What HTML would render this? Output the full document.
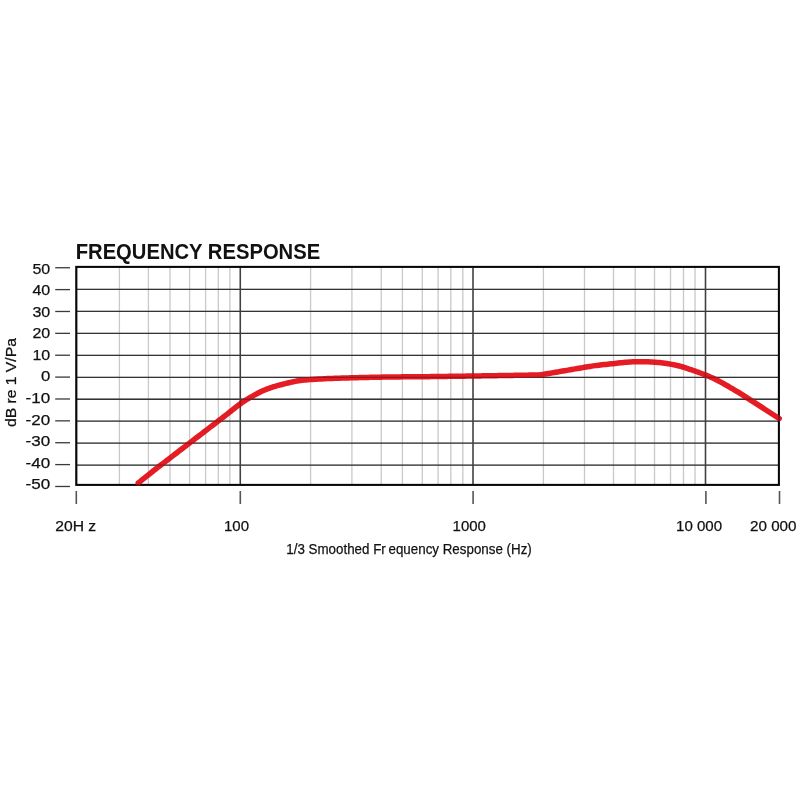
<!DOCTYPE html>
<html><head><meta charset="utf-8"><style>
html,body{margin:0;padding:0;background:#fff;width:800px;height:800px;overflow:hidden}
svg{display:block}
text{font-family:"Liberation Sans",sans-serif;fill:#111;stroke:#111;stroke-width:0.25px}
.g{mix-blend-mode:multiply;opacity:0.45}
.mn{stroke:#d8d8d8;stroke-width:1.3}
.hz{stroke:#4a4a4a;stroke-width:1.3}
.mj{stroke:#5a5a5a;stroke-width:1.5}
.fr{fill:none;stroke:#0d0d0d;stroke-width:2}
.tk{stroke:#3a3a3a;stroke-width:1.3}
.xt{stroke:#555;stroke-width:1.6}
.cv{fill:none;stroke:#e51c24;stroke-width:5.5;stroke-linecap:round;stroke-linejoin:round}
.yl{font-size:15.2px;text-anchor:end}
.ttl{font-size:22.5px;font-weight:bold;fill:#111;stroke:none}
.xl{font-size:15px}
.sub{font-size:15px}
.ax{font-size:15px}
</style></head><body>
<svg width="800" height="800" viewBox="0 0 800 800">
<g>
<line x1="119.40" y1="266.9" x2="119.40" y2="484.9" class="mn"/>
<line x1="148.40" y1="266.9" x2="148.40" y2="484.9" class="mn"/>
<line x1="170.00" y1="266.9" x2="170.00" y2="484.9" class="mn"/>
<line x1="189.60" y1="266.9" x2="189.60" y2="484.9" class="mn"/>
<line x1="205.60" y1="266.9" x2="205.60" y2="484.9" class="mn"/>
<line x1="218.35" y1="266.9" x2="218.35" y2="484.9" class="mn"/>
<line x1="229.90" y1="266.9" x2="229.90" y2="484.9" class="mn"/>
<line x1="310.60" y1="266.9" x2="310.60" y2="484.9" class="mn"/>
<line x1="351.90" y1="266.9" x2="351.90" y2="484.9" class="mn"/>
<line x1="381.25" y1="266.9" x2="381.25" y2="484.9" class="mn"/>
<line x1="402.40" y1="266.9" x2="402.40" y2="484.9" class="mn"/>
<line x1="422.30" y1="266.9" x2="422.30" y2="484.9" class="mn"/>
<line x1="438.10" y1="266.9" x2="438.10" y2="484.9" class="mn"/>
<line x1="450.80" y1="266.9" x2="450.80" y2="484.9" class="mn"/>
<line x1="462.80" y1="266.9" x2="462.80" y2="484.9" class="mn"/>
<line x1="543.40" y1="266.9" x2="543.40" y2="484.9" class="mn"/>
<line x1="584.50" y1="266.9" x2="584.50" y2="484.9" class="mn"/>
<line x1="613.50" y1="266.9" x2="613.50" y2="484.9" class="mn"/>
<line x1="635.20" y1="266.9" x2="635.20" y2="484.9" class="mn"/>
<line x1="654.50" y1="266.9" x2="654.50" y2="484.9" class="mn"/>
<line x1="670.50" y1="266.9" x2="670.50" y2="484.9" class="mn"/>
<line x1="683.50" y1="266.9" x2="683.50" y2="484.9" class="mn"/>
<line x1="695.05" y1="266.9" x2="695.05" y2="484.9" class="mn"/>
<line x1="76.3" y1="465.14" x2="778.9" y2="465.14" class="hz"/>
<line x1="76.3" y1="443.18" x2="778.9" y2="443.18" class="hz"/>
<line x1="76.3" y1="421.22" x2="778.9" y2="421.22" class="hz"/>
<line x1="76.3" y1="399.26" x2="778.9" y2="399.26" class="hz"/>
<line x1="76.3" y1="377.30" x2="778.9" y2="377.30" class="hz"/>
<line x1="76.3" y1="355.34" x2="778.9" y2="355.34" class="hz"/>
<line x1="76.3" y1="333.38" x2="778.9" y2="333.38" class="hz"/>
<line x1="76.3" y1="311.42" x2="778.9" y2="311.42" class="hz"/>
<line x1="76.3" y1="289.46" x2="778.9" y2="289.46" class="hz"/>
<line x1="240.30" y1="266.9" x2="240.30" y2="484.9" class="mj"/>
<line x1="473.00" y1="266.9" x2="473.00" y2="484.9" class="mj"/>
<line x1="705.50" y1="266.9" x2="705.50" y2="484.9" class="mj"/>
<rect x="76.3" y="266.9" width="702.60" height="218.00" class="fr"/>
</g>
<path d="M138.25,483.00 L139.75,481.79 L141.75,480.17 L143.25,478.96 L145.25,477.35 L146.75,476.14 L148.75,474.54 L150.25,473.35 L152.25,471.76 L154.25,470.18 L155.75,469.01 L157.75,467.45 L159.25,466.29 L161.25,464.75 L162.75,463.59 L164.75,462.06 L166.75,460.53 L168.25,459.38 L170.25,457.84 L171.75,456.69 L173.75,455.16 L175.25,454.01 L177.25,452.48 L179.25,450.94 L180.75,449.79 L182.75,448.26 L184.25,447.11 L186.25,445.58 L187.75,444.42 L189.75,442.89 L191.75,441.36 L193.25,440.21 L195.25,438.68 L196.75,437.53 L198.75,435.99 L200.25,434.84 L202.25,433.31 L204.25,431.77 L205.75,430.63 L207.75,429.09 L209.25,427.94 L211.25,426.41 L212.75,425.26 L214.75,423.72 L216.75,422.19 L218.25,421.04 L220.25,419.50 L221.75,418.34 L223.75,416.78 L225.25,415.61 L227.25,414.04 L229.25,412.46 L230.75,411.28 L232.75,409.71 L234.25,408.53 L236.25,406.96 L237.75,405.79 L239.75,404.27 L241.75,402.80 L243.25,401.76 L245.25,400.44 L246.75,399.50 L248.75,398.30 L250.25,397.42 L252.25,396.28 L254.25,395.17 L255.75,394.35 L257.75,393.29 L259.25,392.53 L261.25,391.54 L262.75,390.84 L264.75,389.95 L266.75,389.13 L268.25,388.56 L270.25,387.84 L271.75,387.34 L273.75,386.71 L275.25,386.26 L277.25,385.69 L279.25,385.14 L280.75,384.74 L282.75,384.23 L284.25,383.85 L286.25,383.36 L287.75,382.99 L289.75,382.52 L291.75,382.07 L293.25,381.75 L295.25,381.35 L296.75,381.07 L298.75,380.74 L300.25,380.52 L302.25,380.26 L304.25,380.04 L305.75,379.90 L307.75,379.73 L309.25,379.63 L311.25,379.49 L312.75,379.40 L314.75,379.28 L316.75,379.16 L318.25,379.08 L320.25,378.97 L321.75,378.89 L323.75,378.78 L325.25,378.71 L327.25,378.62 L329.25,378.54 L330.75,378.48 L332.75,378.40 L334.25,378.35 L336.25,378.28 L337.75,378.23 L339.75,378.16 L341.75,378.10 L343.25,378.05 L345.25,377.99 L346.75,377.94 L348.75,377.89 L350.25,377.85 L352.25,377.80 L354.25,377.74 L355.75,377.71 L357.75,377.66 L359.25,377.62 L361.25,377.57 L362.75,377.54 L364.75,377.49 L366.75,377.44 L368.25,377.41 L370.25,377.36 L371.75,377.33 L373.75,377.29 L375.25,377.26 L377.25,377.22 L379.25,377.18 L380.75,377.15 L382.75,377.11 L384.25,377.09 L386.25,377.06 L387.75,377.03 L389.75,377.01 L391.75,376.98 L393.25,376.96 L395.25,376.94 L396.75,376.92 L398.75,376.90 L400.25,376.88 L402.25,376.86 L404.25,376.85 L405.75,376.83 L407.75,376.82 L409.25,376.80 L411.25,376.79 L412.75,376.77 L414.75,376.76 L416.75,376.74 L418.25,376.73 L420.25,376.71 L421.75,376.70 L423.75,376.68 L425.25,376.67 L427.25,376.65 L429.25,376.63 L430.75,376.61 L432.75,376.59 L434.25,376.57 L436.25,376.55 L437.75,376.53 L439.75,376.50 L441.75,376.47 L443.25,376.45 L445.25,376.42 L446.75,376.40 L448.75,376.37 L450.25,376.35 L452.25,376.32 L454.25,376.29 L455.75,376.27 L457.75,376.24 L459.25,376.21 L461.25,376.18 L462.75,376.16 L464.75,376.13 L466.75,376.10 L468.25,376.08 L470.25,376.05 L471.75,376.02 L473.75,375.99 L475.25,375.97 L477.25,375.94 L479.25,375.91 L480.75,375.89 L482.75,375.86 L484.25,375.83 L486.25,375.80 L487.75,375.78 L489.75,375.75 L491.75,375.72 L493.25,375.69 L495.25,375.66 L496.75,375.64 L498.75,375.61 L500.25,375.58 L502.25,375.55 L504.25,375.52 L505.75,375.50 L507.75,375.46 L509.25,375.44 L511.25,375.41 L512.75,375.38 L514.75,375.35 L516.75,375.32 L518.25,375.29 L520.25,375.26 L521.75,375.23 L523.75,375.20 L525.25,375.18 L527.25,375.15 L529.25,375.12 L530.75,375.09 L532.75,375.06 L534.25,375.03 L536.25,374.97 L537.75,374.90 L539.75,374.76 L541.75,374.56 L543.25,374.36 L545.25,374.06 L546.75,373.82 L548.75,373.48 L550.25,373.22 L552.25,372.88 L554.25,372.53 L555.75,372.27 L557.75,371.92 L559.25,371.66 L561.25,371.32 L562.75,371.06 L564.75,370.71 L566.75,370.36 L568.25,370.10 L570.25,369.76 L571.75,369.50 L573.75,369.15 L575.25,368.89 L577.25,368.54 L579.25,368.20 L580.75,367.94 L582.75,367.59 L584.25,367.33 L586.25,367.00 L587.75,366.75 L589.75,366.43 L591.75,366.12 L593.25,365.90 L595.25,365.61 L596.75,365.42 L598.75,365.17 L600.25,364.99 L602.25,364.76 L604.25,364.55 L605.75,364.40 L607.75,364.19 L609.25,364.04 L611.25,363.83 L612.75,363.67 L614.75,363.46 L616.75,363.24 L618.25,363.07 L620.25,362.85 L621.75,362.69 L623.75,362.49 L625.25,362.35 L627.25,362.18 L629.25,362.03 L630.75,361.94 L632.75,361.83 L634.25,361.76 L636.25,361.69 L637.75,361.66 L639.75,361.65 L641.75,361.66 L643.25,361.68 L645.25,361.73 L646.75,361.77 L648.75,361.85 L650.25,361.93 L652.25,362.04 L654.25,362.17 L655.75,362.28 L657.75,362.45 L659.25,362.60 L661.25,362.81 L662.75,362.99 L664.75,363.25 L666.75,363.53 L668.25,363.76 L670.25,364.09 L671.75,364.36 L673.75,364.75 L675.25,365.06 L677.25,365.52 L679.25,366.02 L680.75,366.43 L682.75,367.01 L684.25,367.47 L686.25,368.11 L687.75,368.61 L689.75,369.28 L691.75,369.97 L693.25,370.49 L695.25,371.20 L696.75,371.74 L698.75,372.46 L700.25,373.01 L702.25,373.76 L704.25,374.52 L705.75,375.10 L707.75,375.91 L709.25,376.53 L711.25,377.40 L712.75,378.08 L714.75,379.03 L716.75,380.02 L718.25,380.79 L720.25,381.85 L721.75,382.66 L723.75,383.77 L725.25,384.62 L727.25,385.76 L729.25,386.91 L730.75,387.78 L732.75,388.96 L734.25,389.85 L736.25,391.04 L737.75,391.95 L739.75,393.19 L741.75,394.44 L743.25,395.39 L745.25,396.66 L746.75,397.62 L748.75,398.90 L750.25,399.86 L752.25,401.14 L754.25,402.42 L755.75,403.38 L757.75,404.67 L759.25,405.63 L761.25,406.93 L762.75,407.90 L764.75,409.21 L766.75,410.50 L768.25,411.47 L770.25,412.76 L771.75,413.72 L773.75,415.00 L775.25,415.96 L777.25,417.23 L779.25,418.50" class="cv"/>
<g class="g">
<line x1="119.40" y1="266.9" x2="119.40" y2="484.9" class="mn"/>
<line x1="148.40" y1="266.9" x2="148.40" y2="484.9" class="mn"/>
<line x1="170.00" y1="266.9" x2="170.00" y2="484.9" class="mn"/>
<line x1="189.60" y1="266.9" x2="189.60" y2="484.9" class="mn"/>
<line x1="205.60" y1="266.9" x2="205.60" y2="484.9" class="mn"/>
<line x1="218.35" y1="266.9" x2="218.35" y2="484.9" class="mn"/>
<line x1="229.90" y1="266.9" x2="229.90" y2="484.9" class="mn"/>
<line x1="310.60" y1="266.9" x2="310.60" y2="484.9" class="mn"/>
<line x1="351.90" y1="266.9" x2="351.90" y2="484.9" class="mn"/>
<line x1="381.25" y1="266.9" x2="381.25" y2="484.9" class="mn"/>
<line x1="402.40" y1="266.9" x2="402.40" y2="484.9" class="mn"/>
<line x1="422.30" y1="266.9" x2="422.30" y2="484.9" class="mn"/>
<line x1="438.10" y1="266.9" x2="438.10" y2="484.9" class="mn"/>
<line x1="450.80" y1="266.9" x2="450.80" y2="484.9" class="mn"/>
<line x1="462.80" y1="266.9" x2="462.80" y2="484.9" class="mn"/>
<line x1="543.40" y1="266.9" x2="543.40" y2="484.9" class="mn"/>
<line x1="584.50" y1="266.9" x2="584.50" y2="484.9" class="mn"/>
<line x1="613.50" y1="266.9" x2="613.50" y2="484.9" class="mn"/>
<line x1="635.20" y1="266.9" x2="635.20" y2="484.9" class="mn"/>
<line x1="654.50" y1="266.9" x2="654.50" y2="484.9" class="mn"/>
<line x1="670.50" y1="266.9" x2="670.50" y2="484.9" class="mn"/>
<line x1="683.50" y1="266.9" x2="683.50" y2="484.9" class="mn"/>
<line x1="695.05" y1="266.9" x2="695.05" y2="484.9" class="mn"/>
<line x1="76.3" y1="465.14" x2="778.9" y2="465.14" class="hz"/>
<line x1="76.3" y1="443.18" x2="778.9" y2="443.18" class="hz"/>
<line x1="76.3" y1="421.22" x2="778.9" y2="421.22" class="hz"/>
<line x1="76.3" y1="399.26" x2="778.9" y2="399.26" class="hz"/>
<line x1="76.3" y1="377.30" x2="778.9" y2="377.30" class="hz"/>
<line x1="76.3" y1="355.34" x2="778.9" y2="355.34" class="hz"/>
<line x1="76.3" y1="333.38" x2="778.9" y2="333.38" class="hz"/>
<line x1="76.3" y1="311.42" x2="778.9" y2="311.42" class="hz"/>
<line x1="76.3" y1="289.46" x2="778.9" y2="289.46" class="hz"/>
<line x1="240.30" y1="266.9" x2="240.30" y2="484.9" class="mj"/>
<line x1="473.00" y1="266.9" x2="473.00" y2="484.9" class="mj"/>
<line x1="705.50" y1="266.9" x2="705.50" y2="484.9" class="mj"/>
<rect x="76.3" y="266.9" width="702.60" height="218.00" class="fr"/>
</g>
<line x1="55.2" y1="486.48" x2="70" y2="486.48" class="tk"/>
<line x1="55.2" y1="464.60" x2="70" y2="464.60" class="tk"/>
<line x1="55.2" y1="442.73" x2="70" y2="442.73" class="tk"/>
<line x1="55.2" y1="420.85" x2="70" y2="420.85" class="tk"/>
<line x1="55.2" y1="398.98" x2="70" y2="398.98" class="tk"/>
<line x1="55.2" y1="377.10" x2="70" y2="377.10" class="tk"/>
<line x1="55.2" y1="355.23" x2="70" y2="355.23" class="tk"/>
<line x1="55.2" y1="333.35" x2="70" y2="333.35" class="tk"/>
<line x1="55.2" y1="311.48" x2="70" y2="311.48" class="tk"/>
<line x1="55.2" y1="289.60" x2="70" y2="289.60" class="tk"/>
<line x1="55.2" y1="267.73" x2="70" y2="267.73" class="tk"/>
<line x1="76.30" y1="491" x2="76.30" y2="504" class="xt"/>
<line x1="240.30" y1="491" x2="240.30" y2="504" class="xt"/>
<line x1="473.10" y1="491" x2="473.10" y2="504" class="xt"/>
<line x1="705.90" y1="491" x2="705.90" y2="504" class="xt"/>
<line x1="779.50" y1="491" x2="779.50" y2="504" class="xt"/>
<text x="50.2" y="489.25" class="yl" textLength="24.6" lengthAdjust="spacingAndGlyphs">-50</text>
<text x="50.2" y="467.68" class="yl" textLength="24.6" lengthAdjust="spacingAndGlyphs">-40</text>
<text x="50.2" y="446.11" class="yl" textLength="24.6" lengthAdjust="spacingAndGlyphs">-30</text>
<text x="50.2" y="424.54" class="yl" textLength="24.6" lengthAdjust="spacingAndGlyphs">-20</text>
<text x="50.2" y="402.97" class="yl" textLength="24.6" lengthAdjust="spacingAndGlyphs">-10</text>
<text x="50.2" y="381.40" class="yl" textLength="9.3" lengthAdjust="spacingAndGlyphs">0</text>
<text x="50.2" y="359.83" class="yl" textLength="17.8" lengthAdjust="spacingAndGlyphs">10</text>
<text x="50.2" y="338.26" class="yl" textLength="17.8" lengthAdjust="spacingAndGlyphs">20</text>
<text x="50.2" y="316.69" class="yl" textLength="17.8" lengthAdjust="spacingAndGlyphs">30</text>
<text x="50.2" y="295.12" class="yl" textLength="17.8" lengthAdjust="spacingAndGlyphs">40</text>
<text x="50.2" y="273.55" class="yl" textLength="17.8" lengthAdjust="spacingAndGlyphs">50</text>
<text x="75.7" y="258.8" class="ttl" textLength="244.5" lengthAdjust="spacingAndGlyphs">FREQUENCY RESPONSE</text>
<text x="55.2" y="531" class="xl" textLength="41" lengthAdjust="spacingAndGlyphs">20H z</text>
<text x="224" y="531" class="xl" textLength="25" lengthAdjust="spacingAndGlyphs">100</text>
<text x="452.6" y="531" class="xl" textLength="33.3" lengthAdjust="spacingAndGlyphs">1000</text>
<text x="676" y="531" class="xl" textLength="46.1" lengthAdjust="spacingAndGlyphs">10 000</text>
<text x="750" y="531" class="xl" textLength="46.5" lengthAdjust="spacingAndGlyphs">20 000</text>
<text x="286.3" y="553.8" class="sub" textLength="245.5" lengthAdjust="spacingAndGlyphs">1/3 Smoothed Fr&#8201;equency Response (Hz)</text>
<text transform="translate(16.2,427.1) rotate(-90)" class="ax" textLength="89" lengthAdjust="spacingAndGlyphs">dB re 1 V/Pa</text>
</svg>
</body></html>
